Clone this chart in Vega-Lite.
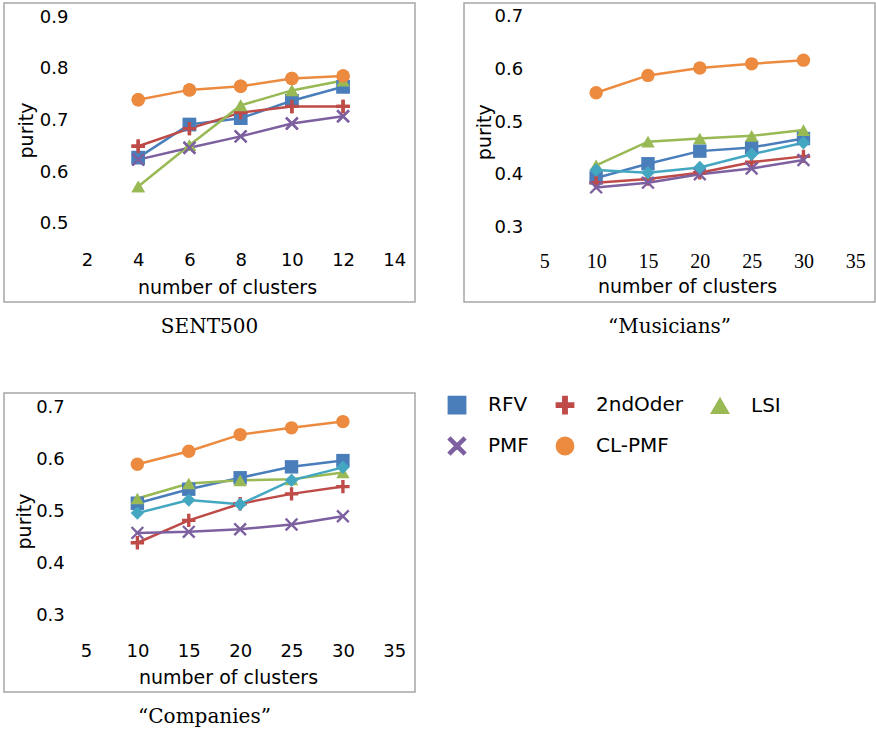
{
  "$schema": "https://vega.github.io/schema/vega-lite/v6.json",
  "padding": {"left": 3, "top": 2, "right": 0, "bottom": 0},
  "background": "white",
  "bounds": "flush",
  "columns": 2,
  "spacing": {"row": 91, "column": 49},
  "config": {
    "view": {"stroke": "#a6a6a6", "strokeWidth": 1.5},
    "axis": {"labelFont": "DejaVu Sans", "labelFontSize": 18, "labelColor": "#000", "titleFont": "DejaVu Sans", "titleFontSize": 19, "titleFontWeight": "normal", "titleColor": "#000", "domain": false, "ticks": false, "grid": false, "labelFlush": false, "labelOverlap": false},
    "legend": {"labelFont": "DejaVu Sans", "labelFontSize": 20, "labelColor": "#000"},
    "title": {"font": "DejaVu Serif", "fontSize": 20, "fontWeight": "normal", "color": "#000"}
  },
  "datasets": {
    "pts": [
      {"panel": "S", "series": "RFV", "k": 4, "purity": 0.626},
      {"panel": "S", "series": "RFV", "k": 6, "purity": 0.690},
      {"panel": "S", "series": "RFV", "k": 8, "purity": 0.702},
      {"panel": "S", "series": "RFV", "k": 10, "purity": 0.736},
      {"panel": "S", "series": "RFV", "k": 12, "purity": 0.763},
      {"panel": "S", "series": "2ndOder", "k": 4, "purity": 0.648},
      {"panel": "S", "series": "2ndOder", "k": 6, "purity": 0.682},
      {"panel": "S", "series": "2ndOder", "k": 8, "purity": 0.713},
      {"panel": "S", "series": "2ndOder", "k": 10, "purity": 0.725},
      {"panel": "S", "series": "2ndOder", "k": 12, "purity": 0.725},
      {"panel": "S", "series": "LSI", "k": 4, "purity": 0.570},
      {"panel": "S", "series": "LSI", "k": 6, "purity": 0.650},
      {"panel": "S", "series": "LSI", "k": 8, "purity": 0.727},
      {"panel": "S", "series": "LSI", "k": 10, "purity": 0.756},
      {"panel": "S", "series": "LSI", "k": 12, "purity": 0.775},
      {"panel": "S", "series": "PMF", "k": 4, "purity": 0.622},
      {"panel": "S", "series": "PMF", "k": 6, "purity": 0.645},
      {"panel": "S", "series": "PMF", "k": 8, "purity": 0.667},
      {"panel": "S", "series": "PMF", "k": 10, "purity": 0.692},
      {"panel": "S", "series": "PMF", "k": 12, "purity": 0.706},
      {"panel": "S", "series": "CL-PMF", "k": 4, "purity": 0.738},
      {"panel": "S", "series": "CL-PMF", "k": 6, "purity": 0.757},
      {"panel": "S", "series": "CL-PMF", "k": 8, "purity": 0.764},
      {"panel": "S", "series": "CL-PMF", "k": 10, "purity": 0.779},
      {"panel": "S", "series": "CL-PMF", "k": 12, "purity": 0.784},

      {"panel": "M", "series": "RFV", "k": 10, "purity": 0.392},
      {"panel": "M", "series": "RFV", "k": 15, "purity": 0.419},
      {"panel": "M", "series": "RFV", "k": 20, "purity": 0.443},
      {"panel": "M", "series": "RFV", "k": 25, "purity": 0.450},
      {"panel": "M", "series": "RFV", "k": 30, "purity": 0.467},
      {"panel": "M", "series": "2ndOder", "k": 10, "purity": 0.383},
      {"panel": "M", "series": "2ndOder", "k": 15, "purity": 0.390},
      {"panel": "M", "series": "2ndOder", "k": 20, "purity": 0.402},
      {"panel": "M", "series": "2ndOder", "k": 25, "purity": 0.422},
      {"panel": "M", "series": "2ndOder", "k": 30, "purity": 0.433},
      {"panel": "M", "series": "LSI", "k": 10, "purity": 0.416},
      {"panel": "M", "series": "LSI", "k": 15, "purity": 0.461},
      {"panel": "M", "series": "LSI", "k": 20, "purity": 0.467},
      {"panel": "M", "series": "LSI", "k": 25, "purity": 0.472},
      {"panel": "M", "series": "LSI", "k": 30, "purity": 0.483},
      {"panel": "M", "series": "PMF", "k": 10, "purity": 0.374},
      {"panel": "M", "series": "PMF", "k": 15, "purity": 0.383},
      {"panel": "M", "series": "PMF", "k": 20, "purity": 0.399},
      {"panel": "M", "series": "PMF", "k": 25, "purity": 0.410},
      {"panel": "M", "series": "PMF", "k": 30, "purity": 0.426},
      {"panel": "M", "series": "CL-PMF", "k": 10, "purity": 0.554},
      {"panel": "M", "series": "CL-PMF", "k": 15, "purity": 0.587},
      {"panel": "M", "series": "CL-PMF", "k": 20, "purity": 0.601},
      {"panel": "M", "series": "CL-PMF", "k": 25, "purity": 0.609},
      {"panel": "M", "series": "CL-PMF", "k": 30, "purity": 0.616},
      {"panel": "M", "series": "Other", "k": 10, "purity": 0.407},
      {"panel": "M", "series": "Other", "k": 15, "purity": 0.402},
      {"panel": "M", "series": "Other", "k": 20, "purity": 0.412},
      {"panel": "M", "series": "Other", "k": 25, "purity": 0.437},
      {"panel": "M", "series": "Other", "k": 30, "purity": 0.459},

      {"panel": "C", "series": "RFV", "k": 10, "purity": 0.513},
      {"panel": "C", "series": "RFV", "k": 15, "purity": 0.540},
      {"panel": "C", "series": "RFV", "k": 20, "purity": 0.562},
      {"panel": "C", "series": "RFV", "k": 25, "purity": 0.583},
      {"panel": "C", "series": "RFV", "k": 30, "purity": 0.595},
      {"panel": "C", "series": "2ndOder", "k": 10, "purity": 0.437},
      {"panel": "C", "series": "2ndOder", "k": 15, "purity": 0.480},
      {"panel": "C", "series": "2ndOder", "k": 20, "purity": 0.512},
      {"panel": "C", "series": "2ndOder", "k": 25, "purity": 0.531},
      {"panel": "C", "series": "2ndOder", "k": 30, "purity": 0.545},
      {"panel": "C", "series": "LSI", "k": 10, "purity": 0.522},
      {"panel": "C", "series": "LSI", "k": 15, "purity": 0.551},
      {"panel": "C", "series": "LSI", "k": 20, "purity": 0.557},
      {"panel": "C", "series": "LSI", "k": 25, "purity": 0.559},
      {"panel": "C", "series": "LSI", "k": 30, "purity": 0.572},
      {"panel": "C", "series": "PMF", "k": 10, "purity": 0.456},
      {"panel": "C", "series": "PMF", "k": 15, "purity": 0.458},
      {"panel": "C", "series": "PMF", "k": 20, "purity": 0.463},
      {"panel": "C", "series": "PMF", "k": 25, "purity": 0.472},
      {"panel": "C", "series": "PMF", "k": 30, "purity": 0.488},
      {"panel": "C", "series": "CL-PMF", "k": 10, "purity": 0.588},
      {"panel": "C", "series": "CL-PMF", "k": 15, "purity": 0.613},
      {"panel": "C", "series": "CL-PMF", "k": 20, "purity": 0.645},
      {"panel": "C", "series": "CL-PMF", "k": 25, "purity": 0.658},
      {"panel": "C", "series": "CL-PMF", "k": 30, "purity": 0.670},
      {"panel": "C", "series": "Other", "k": 10, "purity": 0.494},
      {"panel": "C", "series": "Other", "k": 15, "purity": 0.519},
      {"panel": "C", "series": "Other", "k": 20, "purity": 0.511},
      {"panel": "C", "series": "Other", "k": 25, "purity": 0.557},
      {"panel": "C", "series": "Other", "k": 30, "purity": 0.582}
    ]
  },
  "concat": [
    {
      "width": 411, "height": 299,
      "title": {"text": "SENT500", "orient": "bottom", "offset": 15},
      "encoding": {
        "x": {"field": "k", "type": "quantitative", "scale": {"domain": [-1.2409, 14.808], "nice": false, "zero": false},
              "axis": {"values": [2, 4, 6, 8, 10, 12, 14], "offset": -53, "labelPadding": 2, "title": "number of clusters", "titleX": 223, "titleY": 44, "titleBaseline": "alphabetic", "titleAlign": "center"}},
        "y": {"field": "purity", "type": "quantitative", "scale": {"domain": [0.34654, 0.92516], "nice": false, "zero": false},
              "axis": {"values": [0.5, 0.6, 0.7, 0.8, 0.9], "format": ".1f", "offset": -83, "labelPadding": 19, "labelOffset": 1, "title": "purity", "titleX": -51, "titleY": 127, "titleAngle": 270, "titleBaseline": "bottom", "titleAlign": "center"}}
      },
      "layer": [
        {"data": {"values": [{"purity": 0.5}, {"purity": 0.6}, {"purity": 0.7}, {"purity": 0.8}, {"purity": 0.9}]},
         "mark": {"type": "rule", "color": "#a6a6a6", "strokeWidth": 1.5},
         "encoding": {"x": {"datum": 2, "type": "quantitative", "scale": {"domain": [-1.2409, 14.808], "nice": false, "zero": false},
              "axis": {"values": [2, 4, 6, 8, 10, 12, 14], "offset": -53, "labelPadding": 2, "title": "number of clusters", "titleX": 223, "titleY": 44, "titleBaseline": "alphabetic", "titleAlign": "center"}}, "x2": {"datum": 14}}},
        {"data": {"name": "pts"}, "transform": [{"filter": "datum.panel === 'S'"}],
         "mark": {"type": "point", "filled": true, "size": 180, "opacity": 1},
         "encoding": {
           "color": {"field": "series", "type": "nominal",
             "scale": {"domain": ["RFV", "2ndOder", "LSI", "PMF", "CL-PMF", "Other"], "range": ["#4a7ebb", "#be4b48", "#98b954", "#7d60a0", "#ec8b3f", "#44a7c1"]},
             "legend": {"title": null, "orient": "none", "direction": "horizontal", "legendX": 443, "legendY": 392, "columns": 3, "columnPadding": 24, "rowPadding": 17,
               "values": ["RFV", "2ndOder", "LSI", "PMF", "CL-PMF"], "symbolSize": 300, "labelOffset": 21}},
           "shape": {"field": "series", "type": "nominal", "legend": null,
             "scale": {"domain": ["RFV", "2ndOder", "LSI", "PMF", "CL-PMF", "Other"], "range": ["square", "M-1,-0.25H-0.25V-1H0.25V-0.25H1V0.25H0.25V1H-0.25V0.25H-1Z", "triangle-up", "M0,-0.25L0.75,-1L1,-0.75L0.25,0L1,0.75L0.75,1L0,0.25L-0.75,1L-1,0.75L-0.25,0L-1,-0.75L-0.75,-1Z", "circle", "diamond"]}}
         }},
        {"data": {"name": "pts"}, "transform": [{"filter": "datum.panel === 'S'"}],
         "mark": {"type": "line", "strokeWidth": 2.5},
         "encoding": {"color": {"field": "series", "type": "nominal",
            "scale": {"domain": ["RFV", "2ndOder", "LSI", "PMF", "CL-PMF", "Other"], "range": ["#4a7ebb", "#be4b48", "#98b954", "#7d60a0", "#ec8b3f", "#44a7c1"]}}}},
        {"data": {"name": "pts"}, "transform": [{"filter": "datum.panel === 'S'"}],
         "mark": {"type": "point", "filled": true, "size": 180, "opacity": 1},
         "encoding": {
           "color": {"field": "series", "type": "nominal",
             "scale": {"domain": ["RFV", "2ndOder", "LSI", "PMF", "CL-PMF", "Other"], "range": ["#4a7ebb", "#be4b48", "#98b954", "#7d60a0", "#ec8b3f", "#44a7c1"]}},
           "shape": {"field": "series", "type": "nominal", "legend": null,
             "scale": {"domain": ["RFV", "2ndOder", "LSI", "PMF", "CL-PMF", "Other"], "range": ["square", "M-1,-0.25H-0.25V-1H0.25V-0.25H1V0.25H0.25V1H-0.25V0.25H-1Z", "triangle-up", "M0,-0.25L0.75,-1L1,-0.75L0.25,0L1,0.75L0.75,1L0,0.25L-0.75,1L-1,0.75L-0.25,0L-1,-0.75L-0.75,-1Z", "circle", "diamond"]}}
         }}
      ]
    },
    {
      "width": 411, "height": 299,
      "title": {"text": "“Musicians”", "orient": "bottom", "offset": 15},
      "encoding": {
        "x": {"field": "k", "type": "quantitative", "scale": {"domain": [-2.746, 36.9], "nice": false, "zero": false},
              "axis": {"values": [5, 10, 15, 20, 25, 30, 35], "offset": -53, "labelPadding": 2, "labelFont": "Liberation Serif", "labelFontSize": 20, "title": "number of clusters", "titleX": 223, "titleY": 43, "titleBaseline": "alphabetic", "titleAlign": "center"}},
        "y": {"field": "purity", "type": "quantitative", "scale": {"domain": [0.15603, 0.72472], "nice": false, "zero": false},
              "axis": {"values": [0.3, 0.4, 0.5, 0.6, 0.7], "format": ".1f", "offset": -80.3, "labelPadding": 21.6, "labelOffset": 1, "title": "purity", "titleX": -50.2, "titleY": 128.7, "titleAngle": 270, "titleBaseline": "bottom", "titleAlign": "center"}}
      },
      "layer": [
        {"data": {"values": [{"purity": 0.3}, {"purity": 0.4}, {"purity": 0.5}, {"purity": 0.6}, {"purity": 0.7}]},
         "mark": {"type": "rule", "color": "#a6a6a6", "strokeWidth": 1.5},
         "encoding": {"x": {"datum": 5, "type": "quantitative", "scale": {"domain": [-2.746, 36.9], "nice": false, "zero": false},
              "axis": {"values": [5, 10, 15, 20, 25, 30, 35], "offset": -53, "labelPadding": 2, "labelFont": "Liberation Serif", "labelFontSize": 20, "title": "number of clusters", "titleX": 223, "titleY": 43, "titleBaseline": "alphabetic", "titleAlign": "center"}}, "x2": {"datum": 35}}},
        {"data": {"name": "pts"}, "transform": [{"filter": "datum.panel === 'M'"}],
         "mark": {"type": "line", "strokeWidth": 2.5},
         "encoding": {"color": {"field": "series", "type": "nominal",
            "scale": {"domain": ["RFV", "2ndOder", "LSI", "PMF", "CL-PMF", "Other"], "range": ["#4a7ebb", "#be4b48", "#98b954", "#7d60a0", "#ec8b3f", "#44a7c1"]}}}},
        {"data": {"name": "pts"}, "transform": [{"filter": "datum.panel === 'M'"}],
         "mark": {"type": "point", "filled": true, "size": 180, "opacity": 1},
         "encoding": {
           "color": {"field": "series", "type": "nominal",
             "scale": {"domain": ["RFV", "2ndOder", "LSI", "PMF", "CL-PMF", "Other"], "range": ["#4a7ebb", "#be4b48", "#98b954", "#7d60a0", "#ec8b3f", "#44a7c1"]}},
           "shape": {"field": "series", "type": "nominal", "legend": null,
             "scale": {"domain": ["RFV", "2ndOder", "LSI", "PMF", "CL-PMF", "Other"], "range": ["square", "M-1,-0.25H-0.25V-1H0.25V-0.25H1V0.25H0.25V1H-0.25V0.25H-1Z", "triangle-up", "M0,-0.25L0.75,-1L1,-0.75L0.25,0L1,0.75L0.75,1L0,0.25L-0.75,1L-1,0.75L-0.25,0L-1,-0.75L-0.75,-1Z", "circle", "diamond"]}}
         }}
      ]
    },
    {
      "width": 411, "height": 299,
      "title": {"text": "“Companies”", "orient": "bottom", "offset": 15, "dx": -5},
      "encoding": {
        "x": {"field": "k", "type": "quantitative", "scale": {"domain": [-2.979, 37.014], "nice": false, "zero": false},
              "axis": {"values": [5, 10, 15, 20, 25, 30, 35], "offset": -52, "labelPadding": 2, "title": "number of clusters", "titleX": 224, "titleY": 43, "titleBaseline": "alphabetic", "titleAlign": "center"}},
        "y": {"field": "purity", "type": "quantitative", "scale": {"domain": [0.15, 0.725], "nice": false, "zero": false},
              "axis": {"values": [0.3, 0.4, 0.5, 0.6, 0.7], "format": ".1f", "offset": -82, "labelPadding": 21.7, "labelOffset": 1, "title": "purity", "titleX": -51.9, "titleY": 128, "titleAngle": 270, "titleBaseline": "bottom", "titleAlign": "center"}}
      },
      "layer": [
        {"data": {"values": [{"purity": 0.3}, {"purity": 0.4}, {"purity": 0.5}, {"purity": 0.6}, {"purity": 0.7}]},
         "mark": {"type": "rule", "color": "#a6a6a6", "strokeWidth": 1.5},
         "encoding": {"x": {"datum": 5, "type": "quantitative", "scale": {"domain": [-2.979, 37.014], "nice": false, "zero": false},
              "axis": {"values": [5, 10, 15, 20, 25, 30, 35], "offset": -52, "labelPadding": 2, "title": "number of clusters", "titleX": 224, "titleY": 43, "titleBaseline": "alphabetic", "titleAlign": "center"}}, "x2": {"datum": 35}}},
        {"data": {"name": "pts"}, "transform": [{"filter": "datum.panel === 'C'"}],
         "mark": {"type": "line", "strokeWidth": 2.5},
         "encoding": {"color": {"field": "series", "type": "nominal",
            "scale": {"domain": ["RFV", "2ndOder", "LSI", "PMF", "CL-PMF", "Other"], "range": ["#4a7ebb", "#be4b48", "#98b954", "#7d60a0", "#ec8b3f", "#44a7c1"]}}}},
        {"data": {"name": "pts"}, "transform": [{"filter": "datum.panel === 'C'"}],
         "mark": {"type": "point", "filled": true, "size": 180, "opacity": 1},
         "encoding": {
           "color": {"field": "series", "type": "nominal",
             "scale": {"domain": ["RFV", "2ndOder", "LSI", "PMF", "CL-PMF", "Other"], "range": ["#4a7ebb", "#be4b48", "#98b954", "#7d60a0", "#ec8b3f", "#44a7c1"]}},
           "shape": {"field": "series", "type": "nominal", "legend": null,
             "scale": {"domain": ["RFV", "2ndOder", "LSI", "PMF", "CL-PMF", "Other"], "range": ["square", "M-1,-0.25H-0.25V-1H0.25V-0.25H1V0.25H0.25V1H-0.25V0.25H-1Z", "triangle-up", "M0,-0.25L0.75,-1L1,-0.75L0.25,0L1,0.75L0.75,1L0,0.25L-0.75,1L-1,0.75L-0.25,0L-1,-0.75L-0.75,-1Z", "circle", "diamond"]}}
         }}
      ]
    }
  ]
}
